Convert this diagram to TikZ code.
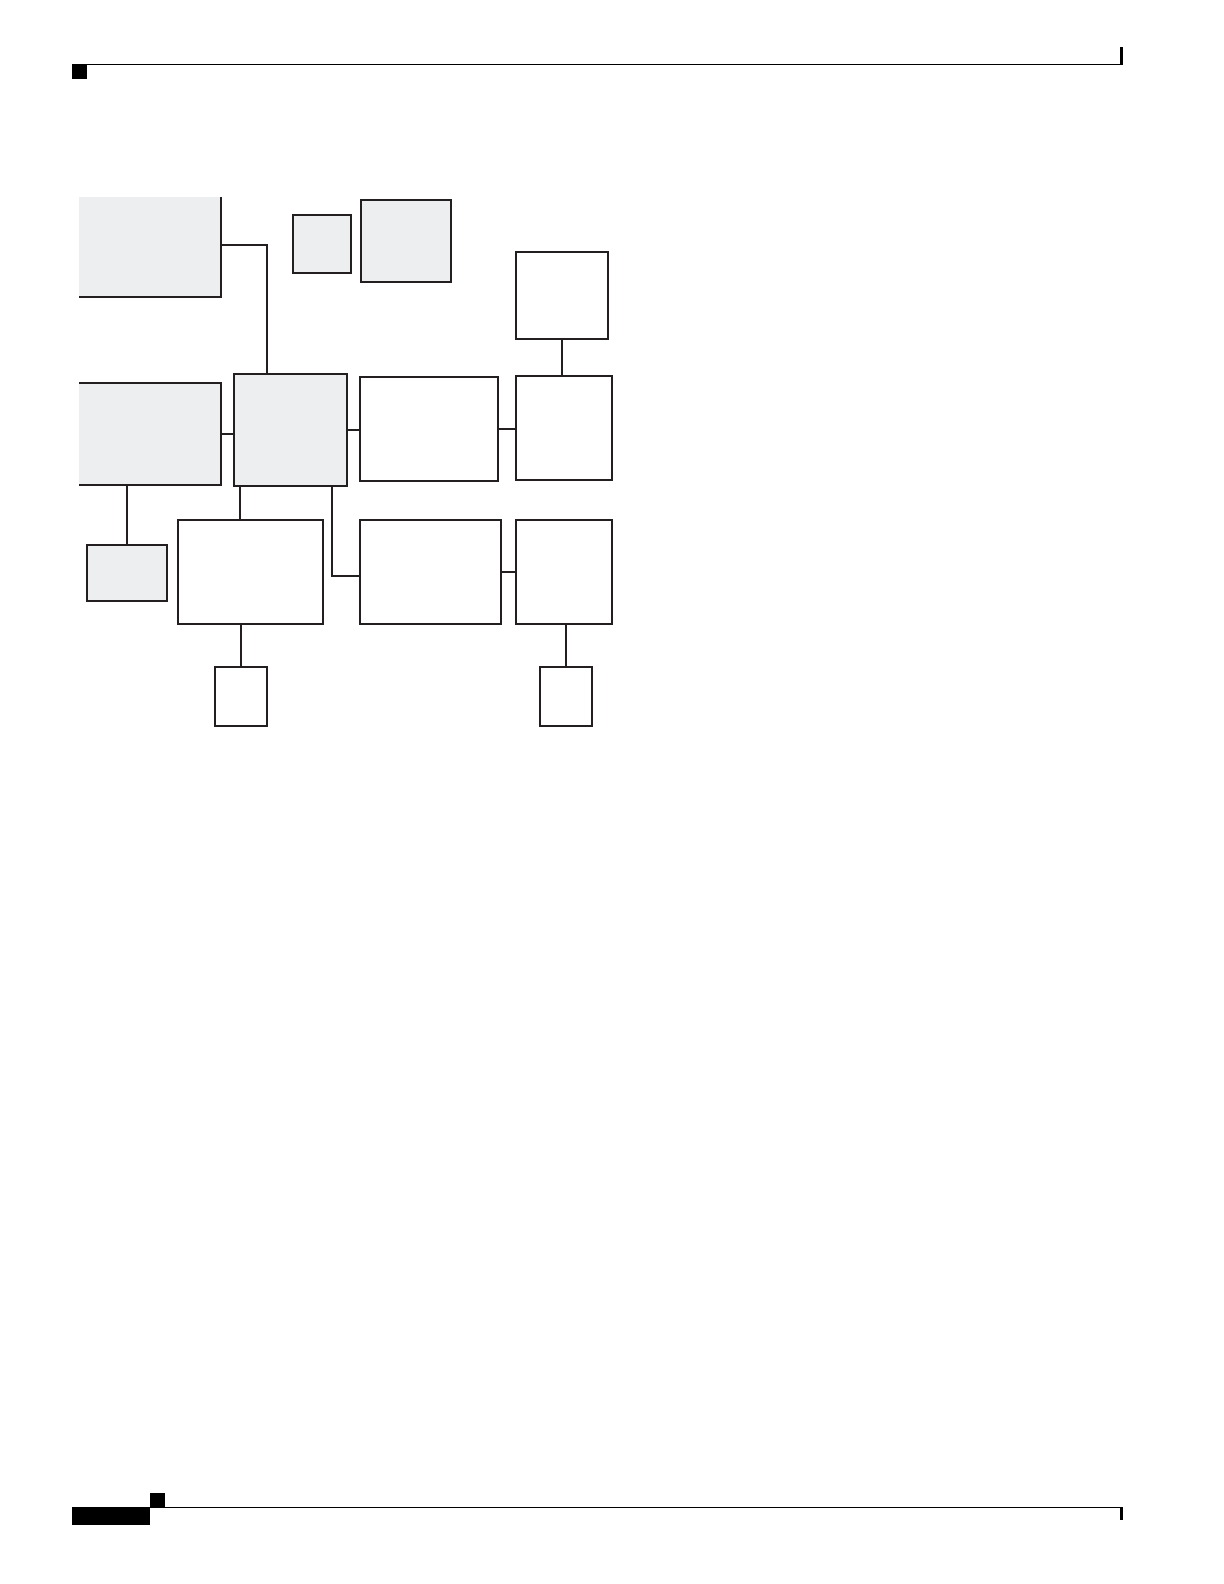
\documentclass[tikz,border=0pt]{standalone}
\usetikzlibrary{calc}
\definecolor{boxgray}{RGB}{237,238,240}
\definecolor{ink}{RGB}{35,31,32}
\newcommand\mkbox[6]{%
  \node[#1, minimum width={(#5-#3)*0.5pt}, minimum height={(#6-#4)*0.5pt}]
    (#2) at ({(#3+#5)/2},{(#4+#6)/2}) {};}
\begin{document}
\begin{tikzpicture}[x=0.5pt,y=-0.5pt,
  base/.style={rectangle, inner sep=0pt, outer sep=0pt},
  graybox/.style={base, draw=ink, line width=0.6pt, fill=boxgray},
  whitebox/.style={base, draw=ink, line width=0.6pt, fill=white},
  openbox/.style={base, fill=boxgray},
  edge/.style={draw=ink, line width=0.6pt},
  rule/.style={draw=black, line width=0.55pt}]
\useasboundingbox (0,0) rectangle (1224,1584);
% page header
\fill[black] (72,64) rectangle (87,79);
\draw[rule] (87,64.5) -- (1121.5,64.5);
\fill[black] (1120,47) rectangle (1123,65);
% page footer
\fill[black] (72,1507) rectangle (150,1525);
\fill[black] (150,1493) rectangle (165,1507);
\draw[rule] (150,1507.5) -- (1121.5,1507.5);
\fill[black] (1120,1507) rectangle (1123,1520);
% boxes
\mkbox{openbox}{A}{79}{197}{221}{297}
\mkbox{openbox}{D}{79}{383}{221}{485}
\mkbox{graybox}{B}{293}{215}{351}{273}
\mkbox{graybox}{B2}{361}{200}{451}{282}
\mkbox{graybox}{C}{234}{374}{347}{486}
\mkbox{whitebox}{E}{360}{377}{498}{481}
\mkbox{whitebox}{F}{516}{376}{612}{480}
\mkbox{whitebox}{G}{516}{252}{608}{339}
\mkbox{graybox}{H}{87}{545}{167}{601}
\mkbox{whitebox}{I}{178}{520}{323}{624}
\mkbox{whitebox}{J}{360}{520}{501}{624}
\mkbox{whitebox}{K}{516}{520}{612}{624}
\mkbox{whitebox}{L}{215}{667}{267}{726}
\mkbox{whitebox}{M}{540}{667}{592}{726}
% partial borders of the clipped boxes
\draw[edge] (A.north east) -- (A.south east) -- (A.south west);
\draw[edge] (D.north west) -- (D.north east) -- (D.south east) -- (D.south west);
% connectors
\draw[edge] ([yshift=1pt]A.east) -| ([xshift=16.5pt]C.north west);
\draw[edge] (D.east) -- (D.east -| C.west);
\draw[edge] (C.east) -- (C.east -| E.west);
\draw[edge] (E.east) -- (E.east -| F.west);
\draw[edge] (G.south) -- (G.south |- F.north);
\draw[edge] (H.north |- D.south) -- (H.north);
\draw[edge] ([xshift=3pt]C.south west) -- ([xshift=3pt]C.south west |- I.north);
\draw[edge] (L.north |- I.south) -- (L.north);
\draw[edge] ([xshift=-7.5pt]C.south east) |- ([yshift=-2pt]J.west);
\draw[edge] (J.east) -- (J.east -| K.west);
\draw[edge] (M.north |- K.south) -- (M.north);
\end{tikzpicture}
\end{document}
